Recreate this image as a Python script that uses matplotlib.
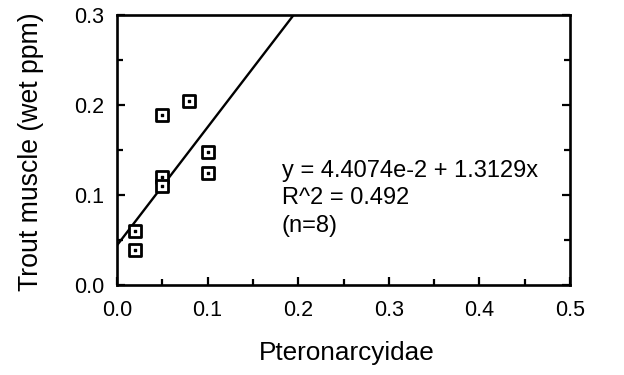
import matplotlib
matplotlib.use("Agg")
import matplotlib.pyplot as plt
import numpy as np
from matplotlib.ticker import MultipleLocator

plt.rcParams['font.family'] = ['Liberation Sans', 'DejaVu Sans']

# Data
x_vals = [0.02, 0.02, 0.05, 0.05, 0.05, 0.08, 0.10, 0.10]
y_vals = [0.060, 0.039, 0.189, 0.120, 0.110, 0.204, 0.148, 0.124]
intercept = 4.4074e-2
slope = 1.3129
eq_lines = ["y = 4.4074e-2 + 1.3129x", "R^2 = 0.492", "(n=8)"]
x_ticks = [0.0, 0.1, 0.2, 0.3, 0.4, 0.5]
y_ticks = [0.0, 0.1, 0.2, 0.3]

fig = plt.figure(figsize=(6.24, 3.75), dpi=100)
ax = fig.add_axes([0.1875, 0.24, 0.726, 0.72])

# regression line
x_end = (0.3 - intercept) / slope
xl = np.array([0.0, x_end])
ax.plot(xl, intercept + slope * xl, color='black', lw=1.7, solid_capstyle='butt')

ax.scatter(x_vals, y_vals, marker='s', s=80, facecolors='white', edgecolors='black',
           linewidths=2.0, zorder=3)
ax.scatter(x_vals, y_vals, marker='s', s=4, color='black', zorder=4)

ax.set_xlim(0, 0.5)
ax.set_ylim(0, 0.3)
ax.set_xticks(x_ticks)
ax.set_yticks(y_ticks)
ax.set_xticklabels([f"{v:.1f}" for v in x_ticks])
ax.set_yticklabels([f"{v:.1f}" for v in y_ticks])
ax.xaxis.set_minor_locator(MultipleLocator(0.05))
ax.yaxis.set_minor_locator(MultipleLocator(0.05))
ax.tick_params(which='both', direction='in', right=True, top=False)
ax.tick_params(which='major', length=6, width=1.6, labelsize=15.5)
ax.tick_params(which='minor', length=4, width=1.6)
ax.tick_params(axis='x', which='major', pad=11)
ax.tick_params(axis='y', which='major', pad=9)
for s in ax.spines.values():
    s.set_linewidth(1.9)

fig.text(347 / 624, 1 - 360 / 375, "Pteronarcyidae", fontsize=18.8,
         ha='center', va='baseline')
fig.text(31 / 624, 1 - 152 / 375, "Trout muscle (wet ppm)", fontsize=19.2,
         rotation=90, ha='center', va='center')

baselines = [0.120, 0.0897, 0.059]
for t, yb in zip(eq_lines, baselines):
    ax.text(0.182, yb, t, fontsize=17, va='baseline', ha='left')

fig.savefig("out.png", dpi=100)
